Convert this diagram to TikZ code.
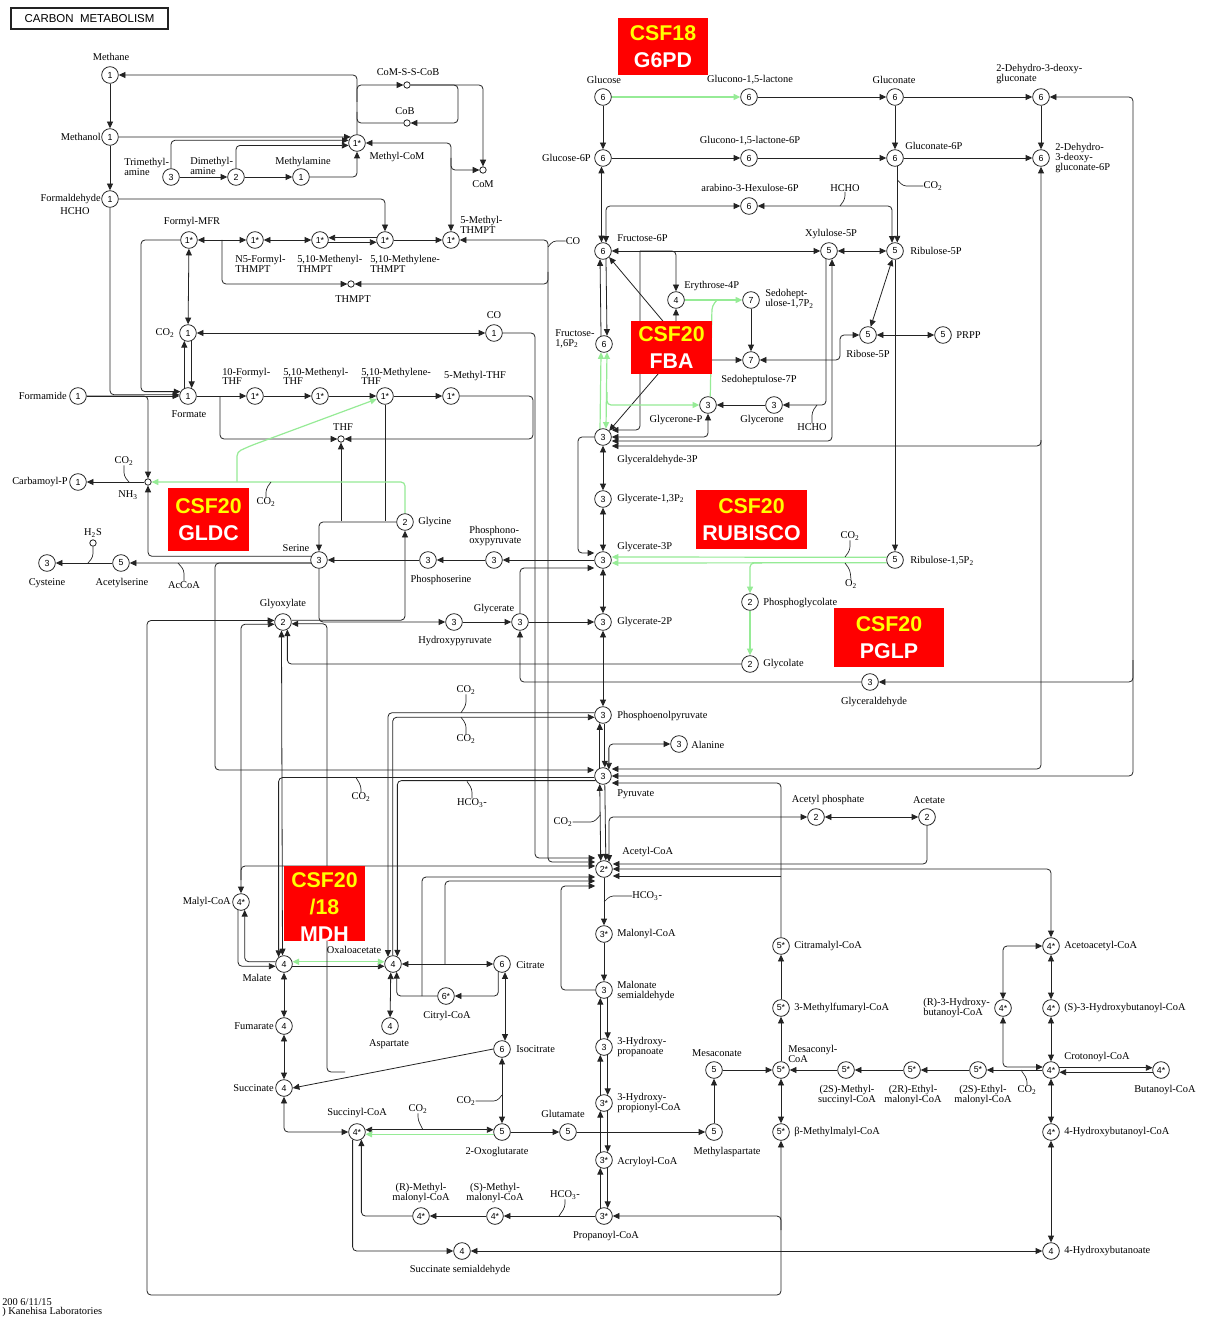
\documentclass[tikz,border=0pt]{standalone}
\usepackage{fontspec}
\setmainfont{Liberation Serif}
\newfontfamily\sansf{Liberation Sans}
\usetikzlibrary{arrows.meta}
\definecolor{ln}{RGB}{35,35,35}
\definecolor{lg}{RGB}{150,235,150}
\definecolor{kred}{RGB}{255,0,0}
\definecolor{kyel}{RGB}{255,255,0}
\pgfdeclarelayer{bg}
\pgfsetlayers{bg,main}
\tikzset{
  cpd/.style={circle, draw=ln, line width=0.6pt, fill=white, minimum size=12.5pt, inner sep=0pt, font=\sansf\fontsize{6.6}{6.6}\selectfont},
  sm/.style={circle, draw=ln, line width=0.6pt, fill=white, minimum size=4.8pt, inner sep=0pt},
  lb/.style={inner sep=0pt, font=\fontsize{7.8}{7.3}\selectfont, align=left},
  lc/.style={inner sep=0pt, font=\fontsize{7.8}{7.3}\selectfont, align=center},
  e/.style={draw=ln, line width=0.6pt, rounded corners=3pt},
  g/.style={draw=lg, line width=0.9pt, rounded corners=3pt},
  hk/.style={draw=ln, line width=0.5pt, rounded corners=2.5pt},
  rb/.style={fill=kred, inner sep=0pt, text=white, align=center, font=\sansf\bfseries\fontsize{16}{20}\selectfont},
}
\newcommand{\sub}[1]{\textsubscript{#1}}
\begin{document}
\begin{tikzpicture}[x=0.75pt,y=-0.75pt,>={Triangle[length=5pt,width=4.5pt]}]
\useasboundingbox (0,0) rectangle (1207,1319);

% ---------- title ----------
\node[draw=ln, line width=1.2pt, minimum width=117.75pt, minimum height=15.75pt, inner sep=0pt, font=\sansf\fontsize{8.6}{8.6}\selectfont] (title) at (89.5,18.5) {CARBON\ \ METABOLISM};

% ---------- compounds ----------
\node[cpd] (M1) at (110,75) {1};
\node[cpd] (M2) at (110,137) {1};
\node[cpd] (M3) at (110,199) {1};
\node[cpd] (MCoM) at (357,143) {1*};
\node[cpd] (TMA) at (171,177) {3};
\node[cpd] (DMA) at (236,177) {2};
\node[cpd] (MMA) at (301,177) {1};
\node[cpd] (FMFR) at (189,240) {1*};
\node[cpd] (N5F) at (255,240) {1*};
\node[cpd] (MenT) at (320,240) {1*};
\node[cpd] (MlnT) at (385,240) {1*};
\node[cpd] (MeT) at (451,240) {1*};
\node[sm] (THMPT) at (351,284) {};
\node[sm] (CoMSS) at (407,85) {};
\node[sm] (CoB) at (407,123) {};
\node[sm] (CoM) at (483,170) {};
\node[cpd] (CO2a) at (188,333) {1};
\node[cpd] (COa) at (494,333) {1};
\node[cpd] (Fmd) at (78,396) {1};
\node[cpd] (Fmt) at (188,396) {1};
\node[cpd] (FTHF) at (255,396) {1*};
\node[cpd] (MenTHF) at (320,396) {1*};
\node[cpd] (MlnTHF) at (385,396) {1*};
\node[cpd] (MeTHF) at (451,396) {1*};
\node[sm] (THF) at (341,439) {};
\node[sm] (NH3) at (148,482) {};
\node[cpd] (CarbP) at (78,482) {1};
\node[cpd] (Gly) at (405,522) {2};
\node[cpd] (Ser) at (319,560) {3};
\node[cpd] (PSer) at (428,560) {3};
\node[cpd] (PHP) at (494,560) {3};
\node[sm] (H2S) at (93,543) {};
\node[cpd] (Cys) at (47,563) {3};
\node[cpd] (AcSer) at (121,563) {5};
\node[cpd] (Glx) at (283,622) {2};
\node[cpd] (HPyr) at (454,622) {3};
\node[cpd] (Glyc) at (520,622) {3};

\node[cpd] (Glc) at (603,97) {6};
\node[cpd] (GlcL) at (749,97) {6};
\node[cpd] (Glcn) at (895,97) {6};
\node[cpd] (KDG) at (1041,97) {6};
\node[cpd] (G6P) at (603,158) {6};
\node[cpd] (GlcL6P) at (749,158) {6};
\node[cpd] (Glcn6P) at (895,158) {6};
\node[cpd] (KDPG) at (1041,158) {6};
\node[cpd] (Hex6P) at (749,206) {6};
\node[cpd] (F6P) at (603,251) {6};
\node[cpd] (Xu5P) at (829,251) {5};
\node[cpd] (Ru5P) at (895,251) {5};
\node[cpd] (E4P) at (676,300) {4};
\node[cpd] (S17P) at (751,300) {7};
\node[cpd] (F16P) at (604,344) {6};
\node[cpd] (S7P) at (751,360) {7};
\node[cpd] (R5P) at (868,335) {5};
\node[cpd] (PRPP) at (943,335) {5};
\node[cpd] (DHAP) at (708,405) {3};
\node[cpd] (DHA) at (774,405) {3};
\node[cpd] (GA3P) at (603,437) {3};
\node[cpd] (BPG) at (603,499) {3};
\node[cpd] (G3P) at (603,560) {3};
\node[cpd] (RuBP) at (895,560) {5};
\node[cpd] (PGlyc) at (750,602) {2};
\node[cpd] (G2P) at (603,622) {3};
\node[cpd] (Glycol) at (750,664) {2};
\node[cpd] (GAld) at (870,682) {3};
\node[cpd] (PEP) at (603,715) {3};
\node[cpd] (Ala) at (679,744) {3};
\node[cpd] (Pyr) at (603,776) {3};
\node[cpd] (AcP) at (816,817) {2};
\node[cpd] (Ac) at (927,817) {2};
\node[cpd] (AcCoA) at (604,869) {2*};
\node[cpd] (MalCoA) at (604,934) {3*};
\node[cpd] (MSA) at (604,990) {3};
\node[cpd] (HP) at (604,1047) {3};
\node[cpd] (HPCoA) at (604,1103) {3*};
\node[cpd] (AcrCoA) at (604,1160) {3*};
\node[cpd] (PropCoA) at (604,1216) {3*};
\node[cpd] (SMM) at (495,1216) {4*};
\node[cpd] (RMM) at (421,1216) {4*};
\node[cpd] (SSA) at (462,1251) {4};
\node[cpd] (MalylCoA) at (241,902) {4*};
\node[cpd] (Mal) at (284,964) {4};
\node[cpd] (OAA) at (393,964) {4};
\node[cpd] (Cit) at (502,964) {6};
\node[cpd] (CitCoA) at (446,996) {6*};
\node[cpd] (Asp) at (390,1026) {4};
\node[cpd] (Fum) at (284,1026) {4};
\node[cpd] (ICit) at (502,1049) {6};
\node[cpd] (Succ) at (284,1088) {4};
\node[cpd] (SucCoA) at (357,1132) {4*};
\node[cpd] (OG) at (502,1132) {5};
\node[cpd] (Glu) at (568,1132) {5};
\node[cpd] (MeAsp) at (714,1132) {5};
\node[cpd] (Mesac) at (714,1070) {5};
\node[cpd] (CitmCoA) at (781,946) {5*};
\node[cpd] (MfCoA) at (781,1008) {5*};
\node[cpd] (MesCoA) at (781,1070) {5*};
\node[cpd] (bMMCoA) at (781,1132) {5*};
\node[cpd] (MSCoA) at (846,1070) {5*};
\node[cpd] (REMCoA) at (912,1070) {5*};
\node[cpd] (SEMCoA) at (978,1070) {5*};
\node[cpd] (CrCoA) at (1051,1070) {4*};
\node[cpd] (BuCoA) at (1161,1070) {4*};
\node[cpd] (AcAcCoA) at (1051,946) {4*};
\node[cpd] (SHBCoA) at (1051,1008) {4*};
\node[cpd] (RHBCoA) at (1003,1008) {4*};
\node[cpd] (HBCoA) at (1051,1132) {4*};
\node[cpd] (HB) at (1051,1251) {4};

% ---------- labels ----------
\node[lc] (t1) at (111,57) {Methane};
\node[lb,anchor=east] (t2) at (101,137) {Methanol};
\node[lb,anchor=east] (t3) at (101,199) {Formaldehyde};
\node[lc] (t4) at (75,211) {HCHO};
\node[lc] (t5) at (408,72) {CoM-S-S-CoB};
\node[lc] (t6) at (405,111) {CoB};
\node[lc] (t7) at (483,184) {CoM};
\node[lc] (t8) at (397,157) {Methyl-CoM};
\node[lb,anchor=north west] (t9) at (124,158) {Trimethyl-\\amine};
\node[lb,anchor=north west] (t10) at (190,157) {Dimethyl-\\amine};
\node[lc] (t11) at (303,162) {Methylamine};
\node[lc] (t12) at (192,222) {Formyl-MFR};
\node[lb,anchor=north west] (t13) at (235,255) {N5-Formyl-\\THMPT};
\node[lb,anchor=north west] (t14) at (297,255) {5,10-Methenyl-\\THMPT};
\node[lb,anchor=north west] (t15) at (370,255) {5,10-Methylene-\\THMPT};
\node[lb,anchor=south west] (t16) at (460,234) {5-Methyl-\\THMPT};
\node[lc] (t17) at (353,299) {THMPT};
\node[lc] (t18) at (573,241) {CO};
\node[lc] (t19) at (165,333) {CO\sub{2}};
\node[lc] (t20) at (494,315) {CO};
\node[lb,anchor=east] (t21) at (67,396) {Formamide};
\node[lc] (t22) at (189,414) {Formate};
\node[lb,anchor=south west] (t23) at (222,385) {10-Formyl-\\THF};
\node[lb,anchor=south west] (t24) at (283,385) {5,10-Methenyl-\\THF};
\node[lb,anchor=south west] (t25) at (361,385) {5,10-Methylene-\\THF};
\node[lc] (t26) at (475,376) {5-Methyl-THF};
\node[lc] (t27) at (343,427) {THF};
\node[lc] (t28) at (124,461) {CO\sub{2}};
\node[lc] (t29) at (128,495) {NH\sub{3}};
\node[lb,anchor=east] (t30) at (68,482) {Carbamoyl-P};
\node[lc] (t31) at (266,502) {CO\sub{2}};
\node[lb,anchor=west] (t32) at (418,522) {Glycine};
\node[lc] (t33) at (296,548) {Serine};
\node[lc] (t34) at (441,580) {Phosphoserine};
\node[lb,anchor=south west] (t35) at (469,546) {Phosphono-\\oxypyruvate};
\node[lc] (t36) at (93,533) {H\sub{2}S};
\node[lc] (t37) at (47,583) {Cysteine};
\node[lc] (t38) at (122,583) {Acetylserine};
\node[lc] (t39) at (184,585) {AcCoA};
\node[lc] (t40) at (283,604) {Glyoxylate};
\node[lc] (t41) at (455,641) {Hydroxypyruvate};
\node[lc] (t42) at (494,609) {Glycerate};

\node[lc] (t43) at (604,80) {Glucose};
\node[lc] (t44) at (750,80) {Glucono-1,5-lactone};
\node[lc] (t45) at (894,80) {Gluconate};
\node[lb,anchor=south west] (t46) at (996,84) {2-Dehydro-3-deoxy-\\gluconate};
\node[lb,anchor=east] (t47) at (591,158) {Glucose-6P};
\node[lc] (t48) at (750,141) {Glucono-1,5-lactone-6P};
\node[lb,anchor=west] (t49) at (905,146) {Gluconate-6P};
\node[lb,anchor=west] (t50) at (1055,158) {2-Dehydro-\\3-deoxy-\\gluconate-6P};
\node[lc] (t51) at (933,186) {CO\sub{2}};
\node[lc] (t52) at (750,188) {arabino-3-Hexulose-6P};
\node[lc] (t53) at (845,188) {HCHO};
\node[lb,anchor=west] (t54) at (617,238) {Fructose-6P};
\node[lc] (t55) at (831,234) {Xylulose-5P};
\node[lb,anchor=west] (t56) at (910,251) {Ribulose-5P};
\node[lb,anchor=west] (t57) at (684,286) {Erythrose-4P};
\node[lb,anchor=west] (t58) at (765,299) {Sedohept-\\ulose-1,7P\sub{2}};
\node[lb,anchor=west] (t59) at (555,339) {Fructose-\\1,6P\sub{2}};
\node[lc] (t60) at (759,380) {Sedoheptulose-7P};
\node[lc] (t61) at (868,354) {Ribose-5P};
\node[lb,anchor=west] (t62) at (956,335) {PRPP};
\node[lc] (t63) at (676,420) {Glycerone-P};
\node[lc] (t64) at (762,420) {Glycerone};
\node[lc] (t65) at (812,427) {HCHO};
\node[lb,anchor=west] (t66) at (617,460) {Glyceraldehyde-3P};
\node[lb,anchor=west] (t67) at (617,499) {Glycerate-1,3P\sub{2}};
\node[lb,anchor=west] (t68) at (617,547) {Glycerate-3P};
\node[lb,anchor=west] (t69) at (910,561) {Ribulose-1,5P\sub{2}};
\node[lc] (t70) at (850,536) {CO\sub{2}};
\node[lc] (t71) at (851,584) {O\sub{2}};
\node[lb,anchor=west] (t72) at (763,603) {Phosphoglycolate};
\node[lb,anchor=west] (t73) at (617,622) {Glycerate-2P};
\node[lb,anchor=west] (t74) at (763,664) {Glycolate};
\node[lc] (t75) at (874,702) {Glyceraldehyde};
\node[lb,anchor=west] (t76) at (617,716) {Phosphoenolpyruvate};
\node[lc] (t77) at (466,690) {CO\sub{2}};
\node[lc] (t78) at (466,739) {CO\sub{2}};
\node[lb,anchor=west] (t79) at (691,745) {Alanine};
\node[lb,anchor=west] (t80) at (617,794) {Pyruvate};
\node[lc] (t81) at (361,797) {CO\sub{2}};
\node[lc] (t82) at (472,803) {HCO\sub{3}-};
\node[lc] (t83) at (563,822) {CO\sub{2}};
\node[lc] (t84) at (828,800) {Acetyl phosphate};
\node[lc] (t85) at (929,800) {Acetate};
\node[lb,anchor=west] (t86) at (622,852) {Acetyl-CoA};
\node[lb,anchor=west] (t87) at (632,896) {HCO\sub{3}-};
\node[lb,anchor=west] (t88) at (617,934) {Malonyl-CoA};
\node[lb,anchor=west] (t89) at (617,991) {Malonate\\semialdehyde};
\node[lb,anchor=west] (t90) at (617,1047) {3-Hydroxy-\\propanoate};
\node[lb,anchor=west] (t91) at (617,1103) {3-Hydroxy-\\propionyl-CoA};
\node[lb,anchor=west] (t92) at (617,1162) {Acryloyl-CoA};
\node[lc] (t93) at (606,1236) {Propanoyl-CoA};
\node[lc] (t94) at (565,1195) {HCO\sub{3}-};
\node[lc] (t95) at (495,1193) {(S)-Methyl-\\malonyl-CoA};
\node[lc] (t96) at (421,1193) {(R)-Methyl-\\malonyl-CoA};
\node[lc] (t97) at (460,1270) {Succinate semialdehyde};
\node[lb,anchor=east] (t98) at (231,902) {Malyl-CoA};
\node[lc] (t99) at (257,978) {Malate};
\node[lc] (t100) at (354,950) {Oxaloacetate};
\node[lb,anchor=west] (t101) at (516,965) {Citrate};
\node[lc] (t102) at (447,1016) {Citryl-CoA};
\node[lc] (t103) at (389,1044) {Aspartate};
\node[lb,anchor=east] (t104) at (274,1026) {Fumarate};
\node[lb,anchor=west] (t105) at (516,1049) {Isocitrate};
\node[lb,anchor=east] (t106) at (274,1088) {Succinate};
\node[lc] (t107) at (357,1113) {Succinyl-CoA};
\node[lc] (t108) at (418,1109) {CO\sub{2}};
\node[lc] (t109) at (466,1101) {CO\sub{2}};
\node[lc] (t110) at (497,1152) {2-Oxoglutarate};
\node[lc] (t111) at (563,1114) {Glutamate};
\node[lc] (t112) at (727,1152) {Methylaspartate};
\node[lc] (t113) at (717,1053) {Mesaconate};
\node[lb,anchor=west] (t114) at (794,946) {Citramalyl-CoA};
\node[lb,anchor=west] (t115) at (794,1008) {3-Methylfumaryl-CoA};
\node[lb,anchor=south west] (t116) at (788,1063) {Mesaconyl-\\CoA};
\node[lb,anchor=west] (t117) at (794,1132) {β-Methylmalyl-CoA};
\node[lc] (t118) at (847,1095) {(2S)-Methyl-\\succinyl-CoA};
\node[lc] (t119) at (913,1095) {(2R)-Ethyl-\\malonyl-CoA};
\node[lc] (t120) at (983,1095) {(2S)-Ethyl-\\malonyl-CoA};
\node[lc] (t121) at (1027,1090) {CO\sub{2}};
\node[lc] (t122) at (1097,1057) {Crotonoyl-CoA};
\node[lb,anchor=west] (t123) at (1134,1090) {Butanoyl-CoA};
\node[lb,anchor=west] (t124) at (1064,946) {Acetoacetyl-CoA};
\node[lb,anchor=west] (t125) at (1064,1008) {(S)-3-Hydroxybutanoyl-CoA};
\node[lb,anchor=east] (t126) at (990,1008) {(R)-3-Hydroxy-\\butanoyl-CoA};
\node[lb,anchor=west] (t127) at (1064,1132) {4-Hydroxybutanoyl-CoA};
\node[lb,anchor=west] (t128) at (1064,1251) {4-Hydroxybutanoate};
\node[lb,anchor=west] (t129) at (2,1302) {200 6/11/15};
\node[lb,anchor=west] (t130) at (2,1312) {) Kanehisa Laboratories};

% ---------- connectors ----------
\begin{pgfonlayer}{bg}
\fill[white] (0,0) rectangle (1207,1319);
% methane metabolism
\draw[e,->] (M1) -- (M2);
\draw[e,->] (M2) -- (M3);
\draw[e,->] (M3) |- (Fmt.172);
\draw[e,->] (M2.east) -- (MCoM.136);
\draw[e,->] (TMA) -- (DMA);
\draw[e,->] (DMA) -- (MMA);
\draw[e,->] (TMA.north) |- (MCoM.162);
\draw[e,->] (DMA.north) |- (MCoM.196);
\draw[e,->] (MMA) -| (MCoM);
\draw[e,->] (MCoM) |- (M1);
\draw[e,->] (357,102) |- (CoMSS);
\draw[e] (357,112) |- (CoB);
\draw[e,->] (CoMSS) -- (458,85) -- (458,123) -- (CoB);
\draw[e,->] (CoMSS) -| (CoM);
\draw[e,<->] (MeT) |- (MCoM);
\draw[e,->] (451,158) |- (CoM);
\draw[e,->] (M3) -| (MlnT);
\draw[e,<->] (FMFR) -- (N5F);
\draw[e,<->] (N5F) -- (MenT);
\draw[e,->] (MlnT.165) -- (MenT.15);
\draw[e,->] (MenT.-15) -- (MlnT.195);
\draw[e,->] (MlnT) -- (MeT);
\draw[e,->] (222,240) |- (THMPT);
\draw[e,<->] ([yshift=5.25pt]AcCoA.west) -| (548,240) -- (MeT);
\draw[e,->] (548,272) |- (THMPT);
\draw[hk] (t18.west) -- (553,241) -- (548,247);
\draw[e,<->] (FMFR) -- (CO2a);
\draw[e,->] (Fmt.115) -- (CO2a.245);
\draw[e,->] (CO2a.-65) -- (Fmt.65);
\draw[e,->] (FMFR.west) -- (141,240) |- (Fmt.150);
\draw[e,<->] (CO2a) -- (COa);
\draw[e,<-] ([yshift=8.25pt]AcCoA.west) -| (535,333) -- (COa);
% folate
\draw[e,->] (Fmd) -- (Fmt);
\draw[e,->] (Fmd.east) -| (NH3);
\draw[e,->] (Fmt) -- (FTHF);
\draw[e,->] (FTHF) -- (MenTHF);
\draw[e,->] (MenTHF) -- (MlnTHF);
\draw[e,->] (MlnTHF) -- (MeTHF);
\draw[e,->] (220,396) |- (THF);
\draw[e,->] (MeTHF.east) -- (533,396) -- (533,439) -- (THF);
\draw[e,->] (NH3) -- (CarbP);
\draw[hk] (t28.south) -- (124,476) -- (129,482);
\draw[e,->] (Gly) -| (Ser);
\draw[e,->] (341,521) -- (THF);
\draw[e] (MlnTHF) -- (385,521);
\draw[g,->] (Gly) |- (NH3);
\draw[g,->] (237,482) -- (237,452) -- (250,446) -- (MlnTHF.200);
\draw[hk] (t31.north) -- (266,489) -- (271,482);
\draw[e,->] (Ser.155) -| (NH3);
\draw[e,->] (Ser.200) -- (AcSer.east);
\draw[hk] (t39.north) -- (184,570) -- (178,563);
\draw[e,->] (AcSer) -- (Cys);
\draw[hk] (H2S) -- (93,557) -- (88,563);
\draw[e,->] (Ser.200) -- (215,563) |- ([yshift=4.5pt]Pyr.west);
\draw[e,->] (PSer) -- (Ser);
\draw[e,->] (PHP) -- (PSer);
\draw[e,->] (G3P) -- (PHP);
\draw[e,->] (Ser) |- (HPyr);
\draw[e,->] (Glx.12) -| (Gly);
\draw[e,->] (HPyr) -- (Glyc);
\draw[e,->] (Glyc) -- (G2P);
\draw[e,->] (Glyc) |- ([yshift=-6pt]G3P.west);
\draw[e,->] (GAld) -| (Glyc);
% glycolysis / PPP
\draw[e,<->] (KDG) -| (1133,400) |- (GAld);
\draw[e,->] (1133,660) |- (Pyr.east);
\draw[e,<->] (KDPG) -- (1041,446) -- ([yshift=-6.75pt]GA3P.east);
\draw[e,->] (1041,440) -- (1041,769) -- ([yshift=5.25pt]Pyr.east);
\draw[e,->] (Glc) -- (G6P);
\draw[g,->] (Glc) -- (GlcL);
\draw[e,->] (GlcL) -- (Glcn);
\draw[e,->] (Glcn) -- (KDG);
\draw[e,->] (Glcn) -- (Glcn6P);
\draw[e,->] (KDG) -- (KDPG);
\draw[e,->] (G6P) -- (GlcL6P);
\draw[e,->] (GlcL6P) -- (Glcn6P);
\draw[e,->] (Glcn6P) -- (KDPG);
\draw[e,<->] (G6P.-100) -- (F6P.100);
\draw[e,<->] (F6P.70) |- (Hex6P);
\draw[e,<->] (Hex6P) -| (Ru5P.110);
\draw[hk] (t53.south) -- (845,199) -- (840,206);
\draw[e,->] (Glcn6P.-75) -- (Ru5P.75);
\draw[hk] (t51.west) -- (903,186) -- (897.5,180);
\draw[e,<->] (F6P) -- (Xu5P);
\draw[e,->] (640,251) -| (E4P);
\draw[e,->] (640,251) -- (640,430) -- ([yshift=5.25pt]GA3P.east);
\draw[e,<->] (Xu5P) -- (Ru5P);
\draw[e,<->] (Ru5P) -- (R5P);
\draw[e,<->] (R5P) -- (PRPP);
\draw[e,->] (Ru5P) -- (RuBP);
\draw[g,->] (E4P) -- (S17P);
\draw[g] (DHAP.75) -- (712,306) -- (717,300);
\draw[e,->] (S17P) -- (S7P);
\coordinate (J) at (683,345);
\draw[e,->] (J) -- (F6P.-45);
\draw[e,->] (J) -- (GA3P.45);
\draw[e,->] (J) -| (E4P);
\draw[e,->] (J) |- (S7P);
\draw[e,->] (F16P.110) -- (F6P.-110);
\draw[e,->] (F6P.-70) -- (F16P.70);
\draw[g,->] (GA3P.110) -- (F16P.-110);
\draw[g,<->] (F16P.-70) -- (GA3P.70);
\draw[g,->] (607,392) |- (DHAP);
\draw[e,->] (DHA) -- (DHAP);
\draw[e,<->] (DHAP) |- (GA3P.east);
\draw[e,->] (Xu5P.-110) |- (DHA);
\draw[hk] (t65.north) -- (812,412) -- (817,405);
\draw[e,<->] (Xu5P.-70) |- ([yshift=-3pt]GA3P.east);
\draw[e,<->] (S7P) -- (840,360) |- (R5P);
\draw[g,->] (RuBP.162) -- ([yshift=2.25pt]G3P.east);
\draw[g,->] (RuBP.198) -- ([yshift=-2.25pt]G3P.east);
\draw[hk] (t70.south) -- (850,550) -- (845,557);
\draw[hk] (t71.north) -- (850,570) -- (845,563);
\draw[g,->] (762,563) -| (PGlyc);
\draw[g,->] (PGlyc) -- (Glycol);
\draw[e,->] (Glycol) -| (Glx.-60);
\draw[e,<->] (Glx.-100) -- (Mal.100);
\draw[e,<->] (GA3P) -- (BPG);
\draw[e,<->] (BPG) -- (G3P);
\draw[e,<->] (G3P) -- (G2P);
\draw[e,<->] (G2P) -- (PEP);
\draw[e,->] (GA3P) -| (578,500) |- ([yshift=5.25pt]G3P.west);
% PEP / pyruvate / OAA
\draw[e,->] (PEP.165) -| (OAA.125);
\draw[e,->] (OAA.92) |- (PEP.195);
\draw[hk] (t77.south) -- (466,705) -- (461,712.8);
\draw[hk] (t78.north) -- (466,724) -- (461,717.2);
\draw[e,->] (Pyr.212) -| (OAA.60);
\draw[hk] (t82.north) -- (472,789) -- (467,781.4);
\draw[e,->] (Pyr.112) -- (PEP.-112);
\draw[e,->] (PEP.-78) -- (Pyr.78);
\draw[e,<->] (Pyr.48) |- (Ala);
\draw[e,<->] (AcCoA.112) -- (Pyr.-112);
\draw[hk] (t83.east) -- (594,822) -- (600.3,815);
\draw[e,->] (Pyr.-78) -- (AcCoA.78);
\draw[e,<->] (AcCoA.55) |- (AcP);
\draw[e,<->] (AcP) -- (Ac);
\draw[e,->] (Ac) |- ([yshift=3.75pt]AcCoA.east);
\draw[e,<->] (AcCoA.east) -| (AcAcCoA);
\draw[e,->] (CitmCoA) |- ([yshift=-5.25pt]Pyr.east);
\draw[e,->] (781,876) -- ([yshift=-5.25pt]AcCoA.east);
\draw[e,->] (Pyr.190) -| (Mal.128);
\draw[hk] (t81.north) -- (361,786) -- (356,777.5);
% 3-hydroxypropionate
\draw[e,->] (AcCoA) -- (MalCoA);
\draw[hk] (t87.west) -- (610,896) -- (604,902);
\draw[e,->] (MalCoA) -- (MSA);
\draw[e,->] (HP.115) -- (MSA.-115);
\draw[e,->] (MSA.-65) -- (HP.65);
\draw[e,->] (HPCoA.115) -- (HP.-115);
\draw[e,->] (HP.-65) -- (HPCoA.65);
\draw[e,->] (AcrCoA.115) -- (HPCoA.-115);
\draw[e,->] (HPCoA.-65) -- (AcrCoA.65);
\draw[e,->] (PropCoA.115) -- (AcrCoA.-115);
\draw[e,->] (AcrCoA.-65) -- (PropCoA.65);
\draw[e,<-] ([yshift=-12.75pt]AcCoA.west) -| (561,990) -- (MSA);
\draw[e,->] (PropCoA) -- (SMM);
\draw[hk] (t94.south) -- (565,1207) -- (559,1216);
\draw[e,->] (SMM) -- (RMM);
\draw[e,->] (RMM) -| (SucCoA.-60);
\draw[e,->] (SucCoA.-120) |- (SSA);
\draw[e,<->] (SSA) -- (HB);
% TCA
\draw[e,<->] (OG.165) -- (SucCoA.15);
\draw[hk] (t108.south) -- (418,1120) -- (423,1129.8);
\draw[g,->] (OG.195) -- (SucCoA.-15);
\draw[e,<->] (Succ) |- (SucCoA);
\draw[e,<->] (Mal) -- (Fum);
\draw[e,<->] (Fum) -- (Succ);
\draw[e,->] (Mal.-15) -- (OAA.195);
\draw[g,<->] (Mal.15) -- (OAA.165);
\draw[e,->] (MalylCoA.-110) |- (Mal.195);
\draw[e,->] (Mal.165) -| (MalylCoA.-65);
\draw[e,<->] (Glx.195) -| (MalylCoA);
\draw[e,<-] ([yshift=2.25pt]AcCoA.west) -| (241,880);
\draw[e,<->] (Glx.170) -| (147,1000) |- (781,1295) -- (bMMCoA);
\draw[e,->] (781,1230) |- (PropCoA);
\draw[e,<->] (OAA) -- (Cit);
\draw[e,<-] ([yshift=-9pt]AcCoA.west) -| (445,964);
\draw[e,<-] ([yshift=-6pt]AcCoA.west) -| (422,996);
\draw[e,->] (Cit.-115) |- (CitCoA);
\draw[e,->] (CitCoA) -| (OAA.-65);
\draw[e,<->] (OAA.-105) -- (Asp);
\draw[e,<->] (Cit.-70) -- (ICit.70);
\draw[e,->] (ICit.west) -- (Succ.east);
\draw[e,->] (345,1072) -| (327,900) |- (Glx.-12);
\draw[e,<->] (ICit) -- (OG);
\draw[hk] (t109.east) -- (497,1101) -- (502,1095);
\draw[e,->] (OG) -- (Glu);
\draw[e,->] (Glu) -- (MeAsp);
\draw[e,->] (MeAsp) -- (Mesac);
\draw[e,->] (Mesac) -- (MesCoA);
\draw[e,->] (MesCoA) -- (MfCoA);
\draw[e,->] (MfCoA) -- (CitmCoA);
\draw[e,<->] (MesCoA) -- (bMMCoA);
% ethylmalonyl
\draw[e,->] (MSCoA) -- (MesCoA);
\draw[e,->] (REMCoA) -- (MSCoA);
\draw[e,->] (SEMCoA) -- (REMCoA);
\draw[e,->] (CrCoA) -- (SEMCoA);
\draw[hk] (t121.north) -- (1027,1079) -- (1021,1070);
\draw[e,<->] (CrCoA) -- (SHBCoA);
\draw[e,<->] (SHBCoA) -- (AcAcCoA);
\draw[e,<->] (CrCoA) -- (HBCoA);
\draw[e,<->] (HBCoA) -- (HB);
\draw[e,<->] (RHBCoA) |- (AcAcCoA);
\draw[e,<->] (RHBCoA) |- (CrCoA.160);
\draw[e,->] (CrCoA.15) -- (BuCoA.165);
\draw[e,->] (BuCoA.195) -- (CrCoA.-15);
\end{pgfonlayer}

% ---------- red annotation boxes ----------
\node[rb, minimum width=67.5pt, minimum height=42.75pt] (b1) at (663,46.5) {\textcolor{kyel}{CSF18}\\G6PD};
\node[rb, minimum width=60.75pt, minimum height=39.75pt] (b2) at (671.5,347.5) {\textcolor{kyel}{CSF20}\\FBA};
\node[rb, minimum width=60.75pt, minimum height=47.25pt] (b3) at (208.5,519.5) {\textcolor{kyel}{CSF20}\\GLDC};
\node[rb, minimum width=83.25pt, minimum height=44.25pt] (b4) at (751.5,519.5) {\textcolor{kyel}{CSF20}\\RUBISCO};
\node[rb, minimum width=82.5pt, minimum height=44.25pt] (b5) at (889,637.5) {\textcolor{kyel}{CSF20}\\PGLP};
\begin{scope}
\clip (284,866) rectangle (365,940);
\node[rb, minimum width=60.75pt, minimum height=62pt] (b6) at (324.5,907) {\textcolor{kyel}{CSF20}\\\textcolor{kyel}{/18}\\MDH};
\end{scope}
\end{tikzpicture}
\end{document}
